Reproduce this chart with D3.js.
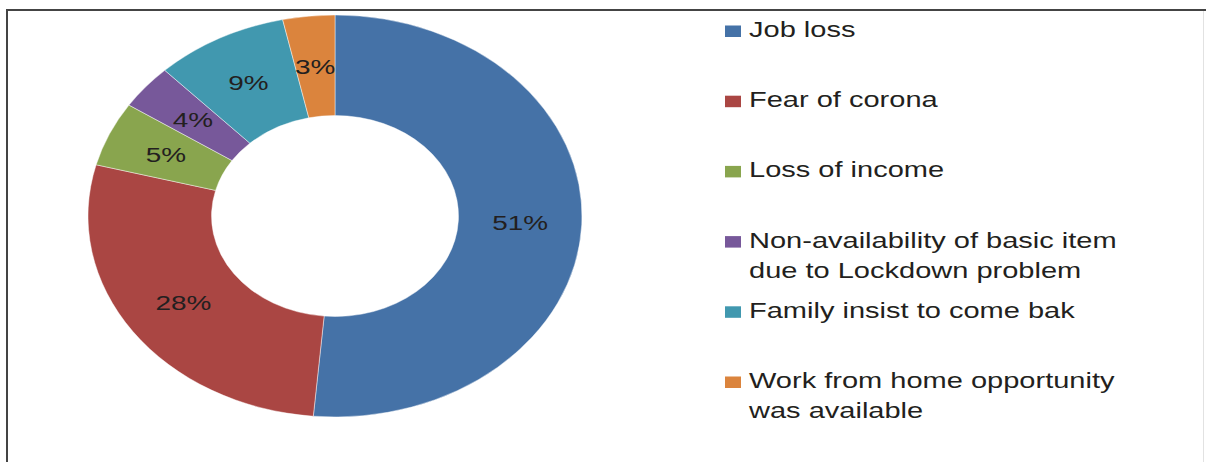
<!DOCTYPE html>
<html lang="en">
<head>
  <meta charset="utf-8">
  <title>Reasons for returning home</title>
  <script src="https://d3js.org/d3.v7.min.js"></script>
  <style>
    body { margin: 0; background: #fff; }
    text { font-family: "Liberation Sans", Arial, Helvetica, sans-serif; fill: #231f20; }
  </style>
</head>
<body>
  <div class="chart"></div>
  <script>
    // data (slice shares estimated from the angles, labels are rounded)
    var categories = [
      "Job loss",
      "Fear of corona",
      "Loss of income",
      "Non-availability of basic item\ndue to Lockdown problem",
      "Family insist to come bak",
      "Work from home opportunity\nwas available"
    ];
    var values = [51.4, 27.7, 5.2, 3.6, 8.7, 3.4];
    var colors = ["#4572a7", "#aa4643", "#89a54e", "#77589a", "#4198af", "#db843d"];

    var width = 1206, height = 462;
    var cx = 335, cy = 216;
    var outerR = 201, innerR = 100.5;
    var stretch = 247 / 201;   // donut is drawn wider than tall
    var textStretch = 1.35;

    var svg = d3.select(".chart").append("svg")
        .attr("width", width)
        .attr("height", height);

    // frame
    svg.append("line").attr("x1", 7).attr("y1", 10).attr("x2", 7).attr("y2", height)
        .attr("stroke", "#444").attr("stroke-width", 2);
    svg.append("line").attr("x1", 6).attr("y1", 10).attr("x2", width).attr("y2", 10)
        .attr("stroke", "#444").attr("stroke-width", 2);
    svg.append("line").attr("x1", 1203.5).attr("y1", 11).attr("x2", 1203.5).attr("y2", height)
        .attr("stroke", "#e2e2e2").attr("stroke-width", 1);

    var color = d3.scaleOrdinal().domain(categories).range(colors);
    var total = d3.sum(values);

    var pie = d3.pie().sort(null).value(function(d, i) { return values[i]; });
    var arcs = pie(categories);

    var arc = d3.arc().innerRadius(innerR).outerRadius(outerR);

    var donut = svg.append("g")
        .attr("transform", "translate(" + cx + "," + cy + ") scale(" + stretch + ",1)");

    donut.selectAll("path")
        .data(arcs)
      .enter().append("path")
        .attr("d", arc)
        .attr("fill", function(d) { return color(d.data); })
        .attr("stroke", "#fff")
        .attr("stroke-width", 0.4);

    // percentage labels at the slice centres
    svg.selectAll(".pct")
        .data(arcs)
      .enter().append("text")
        .attr("class", "pct")
        .attr("transform", function(d) {
          var c = arc.centroid(d);
          return "translate(" + (cx + c[0] * stretch) + "," + (cy + c[1]) + ") scale(1.33,1)";
        })
        .attr("text-anchor", "middle")
        .attr("dy", "0.36em")
        .style("font-size", "21px")
        .text(function(d) { return Math.round(d.value / total * 100) + "%"; });

    // legend
    var ly = d3.scalePoint().domain(categories).range([37, 388]);

    var item = svg.selectAll(".legend")
        .data(categories)
      .enter().append("g")
        .attr("class", "legend")
        .attr("transform", function(d) { return "translate(0," + ly(d) + ")"; });

    item.append("rect")
        .attr("x", 725)
        .attr("y", -11.5)
        .attr("width", 16)
        .attr("height", 11.5)
        .attr("fill", function(d) { return color(d); });

    var label = item.append("text")
        .attr("transform", "translate(749,0) scale(" + textStretch + ",1)")
        .style("font-size", "21.5px");

    label.selectAll("tspan")
        .data(function(d) { return d.split("\n"); })
      .enter().append("tspan")
        .attr("x", 0)
        .attr("y", function(d, i) { return i * 30; })
        .text(function(d) { return d; });
  </script>
</body>
</html>
